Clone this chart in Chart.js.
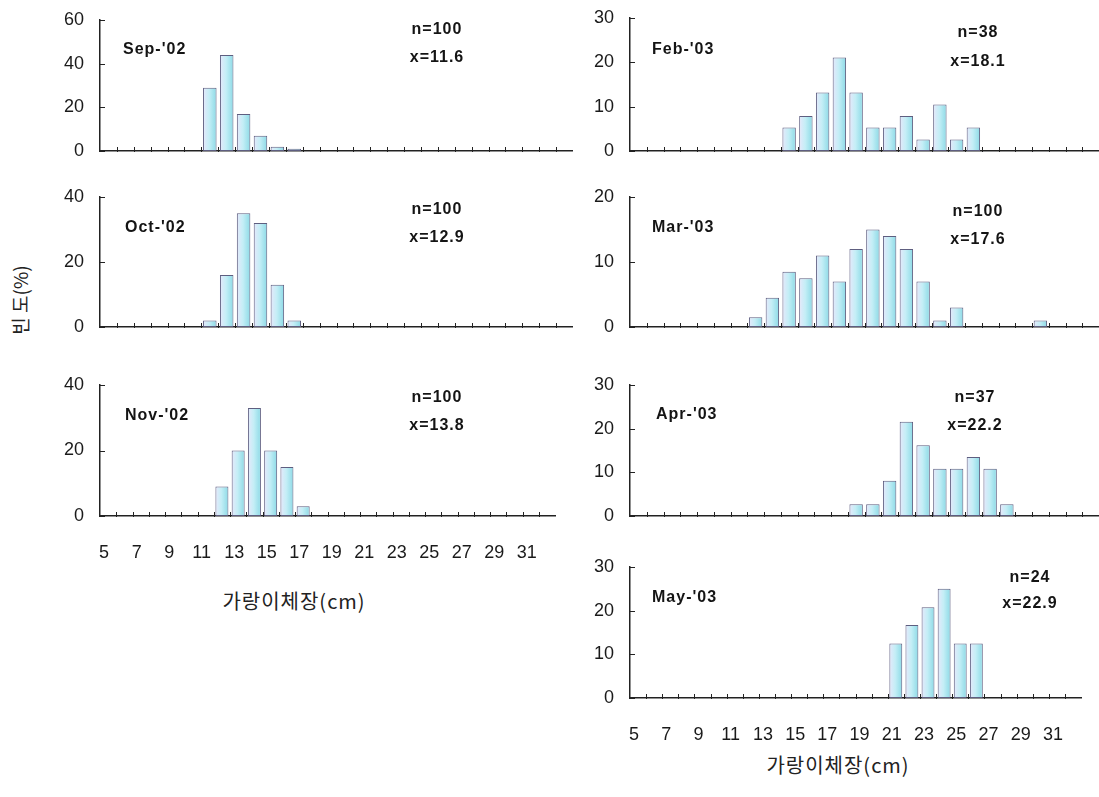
<!DOCTYPE html>
<html><head><meta charset="utf-8">
<script src="https://cdn.jsdelivr.net/npm/chart.js@4.4.1/dist/chart.umd.min.js"></script>
<style>
html,body{margin:0;padding:0;background:#fff;overflow:hidden;width:1099px;height:797px;}
.pane{position:absolute;}
.xtitle{position:absolute;font-family:"Noto Sans CJK KR",sans-serif;font-size:20px;color:#222;white-space:nowrap;transform:translate(-50%,-50%);letter-spacing:1px;}
#ytitle{position:absolute;left:19px;top:300px;transform:translate(-50%,-50%) rotate(-90deg);font-family:"Noto Sans CJK KR",sans-serif;font-size:19px;color:#222;white-space:nowrap;}
</style></head><body>
<div id="ytitle">빈 도(%)</div>
<div class="xtitle" style="left:294px;top:600px;">가랑이체장(cm)</div>
<div class="xtitle" style="left:838px;top:764px;">가랑이체장(cm)</div>
<script>
// ---- data ----
const lengthClasses = ['5','6','7','8','9','10','11','12','13','14','15','16','17','18','19','20','21','22','23','24','25','26','27','28','29','30','31','32'];
const xTickLabels = ['5','7','9','11','13','15','17','19','21','23','25','27','29','31'];
const panelLabels = ["Sep-'02","Oct-'02","Nov-'02","Feb-'03","Mar-'03","Apr-'03","May-'03"];
const sampleSizes = [100,100,100,38,100,37,24];
const meanLengths = ['11.6','12.9','13.8','18.1','17.6','22.2','22.9'];
const yMaxValues = [60,40,40,30,20,30,30];
const yStepValues = [20,20,20,10,10,10,10];

const sep02 = [null,null,null,null,null,null,29,44,17,7,2,1,null,null,null,null,null,null,null,null,null,null,null,null,null,null,null,null];
const oct02 = [null,null,null,null,null,null,2,16,35,32,13,2,null,null,null,null,null,null,null,null,null,null,null,null,null,null,null,null];
const nov02 = [null,null,null,null,null,null,null,9,20,33,20,15,3,null,null,null,null,null,null,null,null,null,null,null,null,null,null,null];
const feb03 = [null,null,null,null,null,null,null,null,null,5.3,7.9,13.2,21.1,13.2,5.3,5.3,7.9,2.6,10.5,2.6,5.3,null,null,null,null,null,null,null];
const mar03 = [null,null,null,null,null,null,null,1.5,4.5,8.5,7.5,11,7,12,15,14,12,7,1,3,null,null,null,null,1,null,null,null];
const apr03 = [null,null,null,null,null,null,null,null,null,null,null,null,null,2.7,2.7,8.1,21.6,16.2,10.8,10.8,13.5,10.8,2.7,null,null,null,null,null];
const may03 = [null,null,null,null,null,null,null,null,null,null,null,null,null,null,null,null,12.5,16.7,20.8,25,12.5,12.5,null,null,null,null,null,null];
const seriesList = [sep02,oct02,nov02,feb03,mar03,apr03,may03];

// ---- layout (styling only) ----
const panels = [
  {col:0, top:20,  bottom:151, last:false, lx:23, ly:30, sx:337, sy:10, sg:28},
  {col:0, top:197, bottom:327, last:false, lx:25, ly:31, sx:337, sy:13, sg:28},
  {col:0, top:385, bottom:516, last:true,  lx:25, ly:31, sx:337, sy:13, sg:28},
  {col:1, top:18,  bottom:151, last:false, lx:22, ly:32, sx:348, sy:15, sg:29},
  {col:1, top:197, bottom:327, last:false, lx:22, ly:31, sx:348, sy:15, sg:28},
  {col:1, top:385, bottom:516, last:false, lx:26, ly:30, sx:345, sy:13, sg:28},
  {col:1, top:567, bottom:698, last:true,  lx:22, ly:31, sx:400, sy:11, sg:26}
];
const colGeom = [{left:40, width:533},{left:570, width:529}];
const PADTOP = 30, YW = 60;

const decor = {
  id:'decor',
  afterDatasetsDraw(chart, args, o){
    const {ctx, chartArea:a, scales:{x,y}} = chart;
    ctx.save();
    ctx.strokeStyle = '#222'; ctx.lineWidth = 1;
    const n = x.ticks.length; const step = (a.right - a.left)/n;
    ctx.beginPath();
    for (let i = 1; i < n; i++) {
      const px = Math.round(x.getPixelForValue(i) - step/2) + 0.5;
      ctx.moveTo(px, a.bottom + 1); ctx.lineTo(px, a.bottom - 4);
    }
    y.ticks.forEach(t => {
      const py = Math.round(y.getPixelForValue(t.value)) + 0.5;
      ctx.moveTo(a.left, py); ctx.lineTo(a.left + 5, py);
    });
    ctx.stroke();
    ctx.fillStyle = '#141414';
    ctx.font = 'bold 16px "Liberation Sans", Arial, sans-serif';
    try { ctx.letterSpacing = '1px'; } catch(e) {}
    ctx.textBaseline = 'middle'; ctx.textAlign = 'left';
    ctx.fillText(o.label, a.left + o.lx, a.top + o.ly);
    ctx.textAlign = 'center';
    ctx.fillText('n=' + o.n, a.left + o.sx, a.top + o.sy);
    ctx.fillText('x=' + o.mean, a.left + o.sx, a.top + o.sy + o.sg);
    ctx.restore();
  }
};

function barFill(c){
  const chart = c.chart; const xs = chart.scales && chart.scales.x;
  if (!xs || !xs.ticks || !xs.ticks.length) return '#b8ecf2';
  const cx = xs.getPixelForValue(c.dataIndex);
  const w = (xs.right - xs.left)/xs.ticks.length*0.4;
  const g = chart.ctx.createLinearGradient(cx - w, 0, cx + w, 0);
  g.addColorStop(0, '#e6e8fb');
  g.addColorStop(0.45, '#c4eef6');
  g.addColorStop(1, '#8cdae6');
  return g;
}

panels.forEach((p, i) => {
  const cg = colGeom[p.col];
  const bottomH = p.last ? 62 : 30;
  const h = PADTOP + (p.bottom - p.top) + bottomH;
  const div = document.createElement('div');
  div.className = 'pane';
  div.style.left = cg.left + 'px'; div.style.top = (p.top - PADTOP) + 'px';
  div.style.width = cg.width + 'px'; div.style.height = h + 'px';
  const cv = document.createElement('canvas');
  div.appendChild(cv); document.body.appendChild(div);
  new Chart(cv, {
    type:'bar',
    data:{ labels: lengthClasses, datasets:[{ data: seriesList[i], backgroundColor: barFill, borderColor:'#5e5e80', borderWidth:1, borderSkipped:false, barPercentage:0.8, categoryPercentage:1 }] },
    options:{
      responsive:true, maintainAspectRatio:false, animation:false,
      layout:{ padding:{ top:PADTOP, left:0, right:0, bottom:0 } },
      plugins:{ legend:{display:false}, tooltip:{enabled:false},
        decor:{ label: panelLabels[i], n: sampleSizes[i], mean: meanLengths[i], lx:p.lx, ly:p.ly, sx:p.sx, sy:p.sy, sg:p.sg } },
      scales:{
        x:{ grid:{display:false, drawTicks:false}, border:{display:true, color:'#222', width:1.5},
            ticks:{ display:p.last, autoSkip:false, maxRotation:0, minRotation:0, padding:26, labelOffset:-4, color:'#1a1a1a',
                    font:{family:'"Liberation Sans", Arial, sans-serif', size:18},
                    callback:(v, idx) => xTickLabels.includes(lengthClasses[idx]) ? lengthClasses[idx] : '' },
            afterFit: s => { s.height = bottomH; } },
        y:{ min:0, max:yMaxValues[i], grid:{display:false, drawTicks:false}, border:{display:true, color:'#222', width:1.5},
            ticks:{ stepSize:yStepValues[i], padding:16, color:'#1a1a1a', font:{family:'"Liberation Sans", Arial, sans-serif', size:18} },
            afterFit: s => { s.width = YW; } }
      }
    },
    plugins:[decor]
  });
});
</script>
</body></html>
